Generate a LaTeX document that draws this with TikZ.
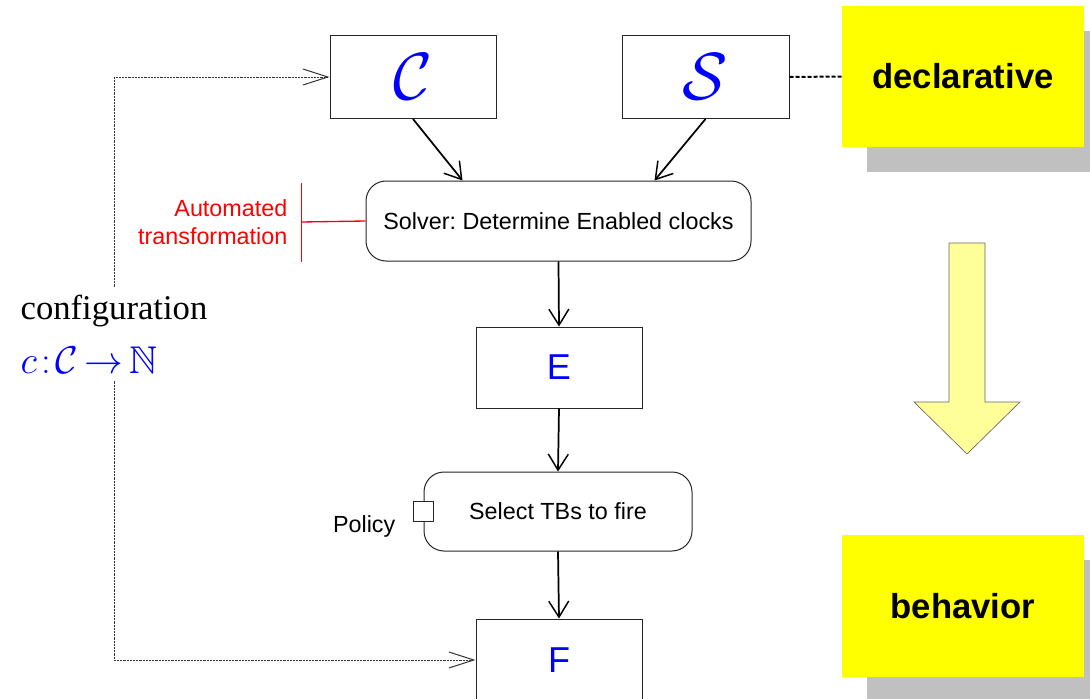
\RequirePackage{fix-cm}
\documentclass[tikz,border=0pt]{standalone}
\usepackage[no-math]{fontspec}
\setmainfont{Liberation Sans}
\newfontfamily\serifface{Liberation Serif}
\usepackage{amssymb}
\usetikzlibrary{arrows.meta,shadows}
\definecolor{noteyellow}{RGB}{255,255,0}
\definecolor{shadowgray}{RGB}{192,192,192}
\definecolor{paleyellow}{RGB}{255,255,153}
\definecolor{setblue}{RGB}{0,0,255}
\definecolor{notered}{RGB}{255,0,0}
\frenchspacing

\begin{document}
\begin{tikzpicture}[x=0.75pt,y=-0.75pt,
  box/.style={draw=black!85, line width=0.75pt, fill=white, inner sep=0pt},
  action/.style={box, rounded corners=15pt},
  smalltext/.style={font=\fontsize{17.5}{21}\selectfont},
  bigsym/.style={font=\fontsize{50}{60}\selectfont, text=setblue},
  bigletter/.style={font=\fontsize{27}{30}\selectfont, text=setblue},
  flow/.style={line width=1.3pt, -{Straight Barb[length=12pt,width=15pt,line width=1.1pt]}},
  feed/.style={draw=black!80, line width=0.6pt, dash pattern=on 1.6pt off 0.8pt,
    -{Straight Barb[length=18.75pt,width=12pt,line width=0.75pt]}},
  redline/.style={color=notered, line width=1pt},
  sticky/.style={fill=noteyellow, minimum width=181.5pt, minimum height=106pt,
    font=\fontsize{26}{30}\selectfont\bfseries,
    drop shadow={shadow xshift=18.75pt, shadow yshift=-18.75pt, fill=shadowgray, opacity=1}}
]
\useasboundingbox (0,0) rectangle (1090,699);

% constraint specification and clock set
\node[box, bigsym, minimum width=124.5pt, minimum height=62.25pt] (C) at (413,77) {$\mathcal{C}$};
\node[box, bigsym, minimum width=125.25pt, minimum height=62.25pt] (S) at (705.5,77) {$\mathcal{S}$};

% execution steps
\node[action, smalltext, minimum width=288.75pt, minimum height=60pt] (solver) at (558.5,221) {Solver: Determine Enabled clocks};
\node[box, bigletter, minimum width=124.5pt, minimum height=60.75pt] (E) at (559,367.5) {E};
\node[action, smalltext, minimum width=201pt, minimum height=59.25pt] (select) at (558,511.5) {Select TBs to fire};
\node[box, minimum width=15pt, minimum height=15pt] (port) at (select.west) {};
\node[smalltext, anchor=base east] (policy) at (400,532) {Policy};
\node[box, bigletter, minimum width=124.5pt, minimum height=61.5pt] (F) at (559,660) {F};

\draw[flow] (C.south) -- ([xshift=-72pt]solver.north);
\draw[flow] (S.south) -- ([xshift=72pt]solver.north);
\draw[flow] (solver.south) -- (E.north);
\draw[flow] (E.south) -- (select.north);
\draw[flow] (select.south) -- (F.north);

% annotation of the solver step: a bracket bar joined to the solver box
\coordinate (bar) at (301.5,222);
\draw[redline] (solver.west) -- (bar);
\draw[redline] (301.5,183) -- (301.5,262);
\node[smalltext, text=notered, align=right, anchor=east] (note) at (292,222) {Automated\\transformation};

% configuration feedback loop
\node[fill=white, inner xsep=0pt, inner ysep=6pt, align=left,
      font=\serifface\fontsize{26}{40.5}\selectfont] (config) at (114,334)
  {configuration\\{\fontsize{29}{40.5}\selectfont\textcolor{setblue}{$c\mkern2mu{:}\mkern2mu\mathcal{C}\,{\rightarrow}\,\mathbb{N}$}}};
\draw[feed] (config.north) |- (C.west);
\draw[feed] (config.south) |- (F.west);

% side notes
\node[sticky] (decl) at (963,76.5) {declarative};
\node[sticky] (behav) at (963,606) {behavior};
\draw[line width=1.5pt, dash pattern=on 3pt off 1.5pt] (S.east) -- (decl.west);

\draw[draw=black!60, fill=paleyellow, line width=0.5pt]
  (949,243) -- (985,243) -- (985,402) -- (1020,402) -- (967,454) -- (914,402) -- (949,402) -- cycle;
\end{tikzpicture}
\end{document}
